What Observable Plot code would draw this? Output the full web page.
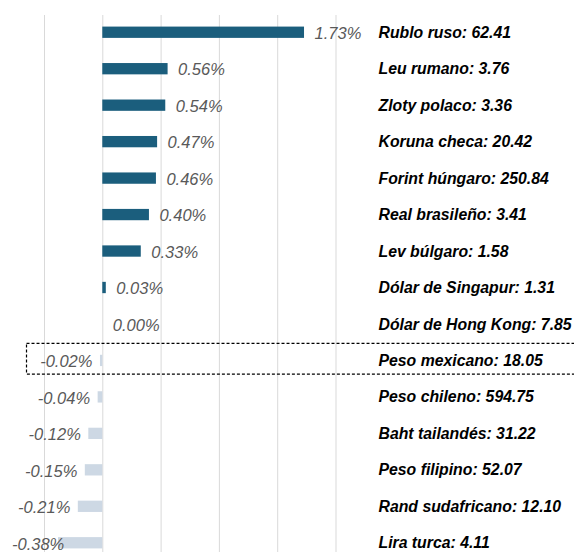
<!DOCTYPE html>
<html>
<head>
<meta charset="utf-8">
<script src="https://cdn.jsdelivr.net/npm/d3@7"></script>
<script src="https://cdn.jsdelivr.net/npm/@observablehq/plot@0.6"></script>
<style>
  html, body { margin: 0; padding: 0; background: #fff; }
  g[aria-label="y-axis tick label"] text { font-weight: bold; font-style: italic; fill: #000; }
</style>
</head>
<body>
<script>
const currencies = ["Rublo ruso","Leu rumano","Zloty polaco","Koruna checa","Forint húngaro","Real brasileño","Lev búlgaro","Dólar de Singapur","Dólar de Hong Kong","Peso mexicano","Peso chileno","Baht tailandés","Peso filipino","Rand sudafricano","Lira turca"];
const rates = ["62.41","3.76","3.36","20.42","250.84","3.41","1.58","1.31","7.85","18.05","594.75","31.22","52.07","12.10","4.11"];
const changes = [1.73,0.56,0.54,0.47,0.46,0.40,0.33,0.03,0.00,-0.02,-0.04,-0.12,-0.15,-0.21,-0.38];
const highlighted = ["Peso mexicano"];
const gridTicks = [-0.5, 0, 0.5, 1, 1.5, 2];

const data = currencies.map((c, i) => ({
  name: c,
  label: `${c}: ${rates[i]}`,
  v: changes[i]
}));
const labels = data.map(d => d.label);
const hl = data.filter(d => highlighted.includes(d.name));
const pos = data.filter(d => d.v >= 0);
const neg = data.filter(d => d.v < 0);
const labelMin = -0.262;

const chart = Plot.plot({
  width: 574,
  height: 552,
  marginTop: 15,
  marginBottom: 0,
  marginLeft: 0,
  marginRight: 202,
  style: { fontFamily: "'Liberation Sans', Arial, sans-serif", background: "#fff", overflow: "hidden" },
  x: { domain: [-0.5, 2], range: [44, 335.5], axis: null },
  y: { domain: labels, range: [14, 561], paddingInner: 0.69, paddingOuter: 0.345, align: 0.5, round: false, label: null },
  marks: [
    Plot.gridX(gridTicks, { stroke: "#d9d9d9", strokeOpacity: 1, strokeWidth: 1 }),
    Plot.barX(data, { y: "label", x1: 0, x2: "v", fill: d => d.v >= 0 ? "#1b5e7d" : "#cdd8e4" }),
    Plot.text(pos, { y: "label", x: "v", text: d => d.v.toFixed(2) + "%", textAnchor: "start", dx: 10, dy: 1, fontSize: 16.5, fontStyle: "italic", fill: "#595959" }),
    Plot.text(neg, { y: "label", x: d => Math.max(d.v, labelMin), text: d => d.v.toFixed(2) + "%", textAnchor: "end", dx: -8, dy: 1, fontSize: 16.5, fontStyle: "italic", fill: "#595959" }),
    Plot.axisY({ anchor: "right", tickSize: 0, tickPadding: 6, textAnchor: "start", fontSize: 15.8, label: null }),
    Plot.rect(hl, { y: "label", x1: -0.65, x2: 5, insetTop: -11.5, insetBottom: -8, fill: "none", stroke: "#000", strokeWidth: 1.2, strokeDasharray: "3,2" })
  ]
});
document.body.appendChild(chart);
</script>
</body>
</html>
